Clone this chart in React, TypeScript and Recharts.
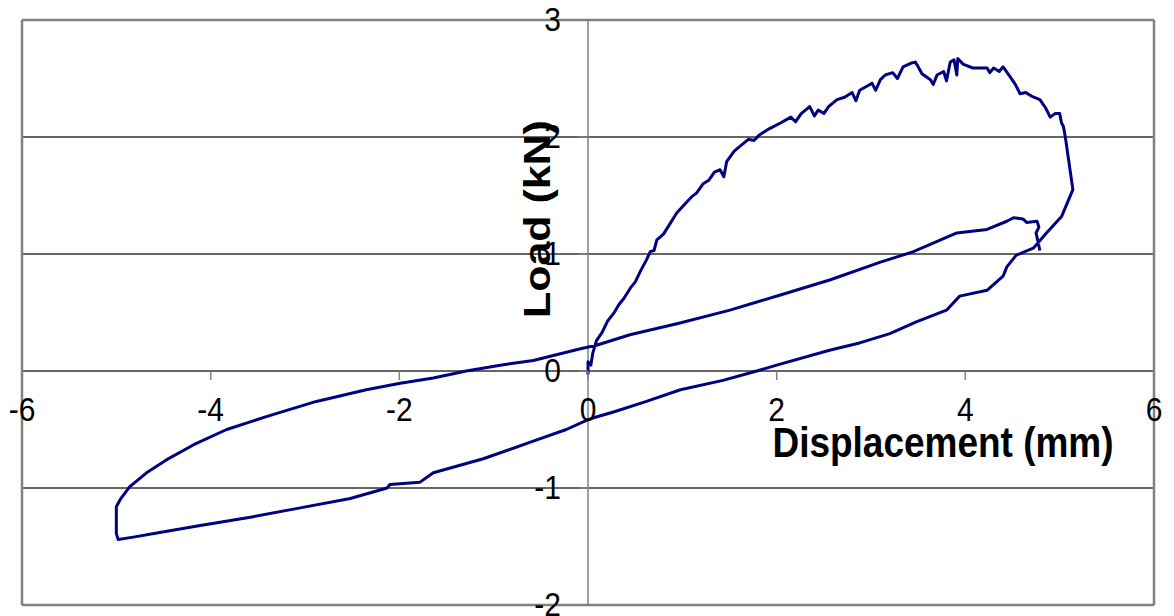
import { LineChart, Line, XAxis, YAxis, ReferenceLine, ReferenceDot } from "recharts"

// loading branch: origin -> peak -> turning point
const loadX = [
  0.0, 0.0, 0.03, 0.05, 0.09, 0.15, 0.21, 0.27, 0.33, 0.38, 0.45, 0.5, 0.56, 0.62, 0.66, 0.7, 0.73, 0.8, 0.87, 0.94,
  1.03, 1.1, 1.15, 1.22, 1.28, 1.34, 1.4, 1.44, 1.47, 1.55, 1.61, 1.7, 1.76, 1.82, 1.92, 2.04, 2.15, 2.2, 2.26, 2.35,
  2.4, 2.44, 2.5, 2.55, 2.64, 2.72, 2.8, 2.84, 2.88, 2.97, 3.01, 3.05, 3.1, 3.15, 3.23, 3.28, 3.34, 3.42, 3.47, 3.5,
  3.54, 3.63, 3.66, 3.7, 3.77, 3.8, 3.84, 3.88, 3.91, 3.92, 3.98, 4.08, 4.23, 4.26, 4.3, 4.36, 4.4, 4.47, 4.53, 4.58,
  4.64, 4.7, 4.79, 4.85, 4.9, 4.95, 5.0, 5.02, 5.04, 5.06, 5.14,
]
const loadY = [
  -0.03, 0.08, 0.05, 0.15, 0.26, 0.33, 0.43, 0.49, 0.57, 0.62, 0.71, 0.76, 0.86, 0.95, 1.02, 1.03, 1.12, 1.17, 1.26, 1.35,
  1.43, 1.49, 1.52, 1.6, 1.63, 1.7, 1.72, 1.66, 1.79, 1.88, 1.92, 1.98, 1.97, 2.02, 2.07, 2.12, 2.17, 2.13, 2.2, 2.26,
  2.18, 2.23, 2.2, 2.26, 2.32, 2.34, 2.38, 2.31, 2.4, 2.44, 2.46, 2.4, 2.49, 2.53, 2.55, 2.5, 2.6, 2.63, 2.64, 2.6,
  2.54, 2.49, 2.45, 2.53, 2.56, 2.48, 2.64, 2.66, 2.53, 2.67, 2.62, 2.59, 2.59, 2.55, 2.59, 2.56, 2.6, 2.52, 2.45, 2.37,
  2.38, 2.35, 2.32, 2.25, 2.17, 2.2, 2.2, 2.12, 2.09, 2.0, 1.55,
]

// unloading / reverse loading to negative peak
const unloadX = [
  5.02, 4.86, 4.72, 4.54, 4.44, 4.4, 4.23, 3.94, 3.8, 3.48, 3.2, 2.88, 2.57, 2.0, 1.79, 1.43, 0.98, 0.62, 0.27, 0.06,
  -0.01, -0.23, -0.58, -1.11, -1.64, -1.78, -2.1, -2.13, -2.52, -3.05, -3.58, -4.11, -4.54, -4.82, -4.98, -5.0, -5.0,
]
const unloadY = [
  1.32, 1.18, 1.05, 0.99, 0.89, 0.81, 0.69, 0.64, 0.52, 0.42, 0.32, 0.24, 0.18, 0.05, 0.0, -0.08, -0.16, -0.26, -0.35, -0.4,
  -0.42, -0.5, -0.6, -0.75, -0.87, -0.95, -0.97, -1.0, -1.09, -1.17, -1.25, -1.32, -1.38, -1.42, -1.44, -1.39, -1.16,
]

// return branch back to positive side
const returnX = [
  -4.96, -4.86, -4.68, -4.47, -4.18, -3.83, -3.41, -2.88, -2.35, -1.99, -1.64, -1.29, -0.93, -0.58, -0.08, 0.09, 0.445,
  0.975, 1.505, 2.04, 2.57, 3.1, 3.45, 3.91, 4.23, 4.44, 4.51, 4.61, 4.65, 4.76, 4.78, 4.75, 4.79,
]
const returnY = [
  -1.1, -0.99, -0.87, -0.76, -0.63, -0.5, -0.39, -0.26, -0.16, -0.105, -0.06, 0.0, 0.05, 0.09, 0.19, 0.22, 0.31,
  0.41, 0.52, 0.65, 0.78, 0.93, 1.02, 1.18, 1.21, 1.28, 1.31, 1.3, 1.27, 1.28, 1.23, 1.18, 1.03,
]

const xTicks = [-6, -4, -2, 0, 2, 4, 6]
const yTicks = [-2, -1, 0, 1, 2, 3]
const gridY = [-1, 1, 2]

const W = 1174
const H = 616
const FONT = "'Liberation Sans', Arial, sans-serif"

const path = [
  ...loadX.map((x, i) => ({ x, y: loadY[i] })),
  ...unloadX.map((x, i) => ({ x, y: unloadY[i] })),
  ...returnX.map((x, i) => ({ x, y: returnY[i] })),
]

const xTickShape = (label: string) => (p: any) => (
  <g>
    <line x1={p.cx} y1={p.cy} x2={p.cx} y2={p.cy + 9} stroke="#808080" strokeWidth={1.5} />
    <text
      transform={`translate(${p.cx},${p.cy + 50}) scale(1,1.12)`}
      textAnchor="middle"
      fontSize={30}
      fontFamily={FONT}
      fill="#000"
    >
      {label}
    </text>
  </g>
)

const yTickShape = (label: string) => (p: any) => (
  <g>
    <line x1={p.cx - 9} y1={p.cy} x2={p.cx} y2={p.cy} stroke="#808080" strokeWidth={1.5} />
    <text
      transform={`translate(${p.cx - 27},${p.cy + 11}) scale(1,1.12)`}
      textAnchor="end"
      fontSize={30}
      fontFamily={FONT}
      fill="#000"
    >
      {label}
    </text>
  </g>
)

export default function App() {
  return (
    <div style={{ position: "absolute", left: 0, top: 0, width: W, height: H, background: "#fff" }}>
      <LineChart width={W} height={H} data={path} margin={{ top: 20, right: 20, bottom: 11, left: 22 }}>
        <XAxis type="number" dataKey="x" domain={[-6, 6]} hide />
        <YAxis type="number" domain={[-2, 3]} hide />
        {gridY.map((v) => (
          <ReferenceLine key={"g" + v} y={v} stroke="#333" strokeWidth={1.3} />
        ))}
        <ReferenceLine y={0} stroke="#333" strokeWidth={1.3} />
        <ReferenceLine x={0} stroke="#808080" strokeWidth={1.5} />
        <ReferenceLine x={-6} stroke="#808080" strokeWidth={2.5} />
        <ReferenceLine x={6} stroke="#808080" strokeWidth={2.5} />
        <ReferenceLine y={3} stroke="#808080" strokeWidth={2.5} />
        <ReferenceLine y={-2} stroke="#808080" strokeWidth={2.5} />
        <Line
          type="linear"
          dataKey="y"
          stroke="#000080"
          strokeWidth={3}
          strokeLinejoin="round"
          dot={false}
          activeDot={false}
          isAnimationActive={false}
        />
        {xTicks.map((t) => (
          <ReferenceDot key={"x" + t} x={t} y={0} r={0} ifOverflow="visible" shape={xTickShape(String(t))} />
        ))}
        {yTicks.map((t) => (
          <ReferenceDot key={"y" + t} x={0} y={t} r={0} ifOverflow="visible" shape={yTickShape(String(t))} />
        ))}
      </LineChart>
      <svg width={W} height={H} style={{ position: "absolute", left: 0, top: 0, pointerEvents: "none" }}>
        <text
          transform="translate(943,457) scale(1,1.16)"
          textAnchor="middle"
          fontSize={37}
          fontWeight="bold"
          fontFamily={FONT}
          fill="#000"
        >
          Displacement (mm)
        </text>
        <text
          transform="translate(550,219) rotate(-90) scale(1.16,1)"
          textAnchor="middle"
          fontSize={37}
          fontWeight="bold"
          fontFamily={FONT}
          fill="#000"
        >
          Load (kN)
        </text>
      </svg>
    </div>
  )
}
